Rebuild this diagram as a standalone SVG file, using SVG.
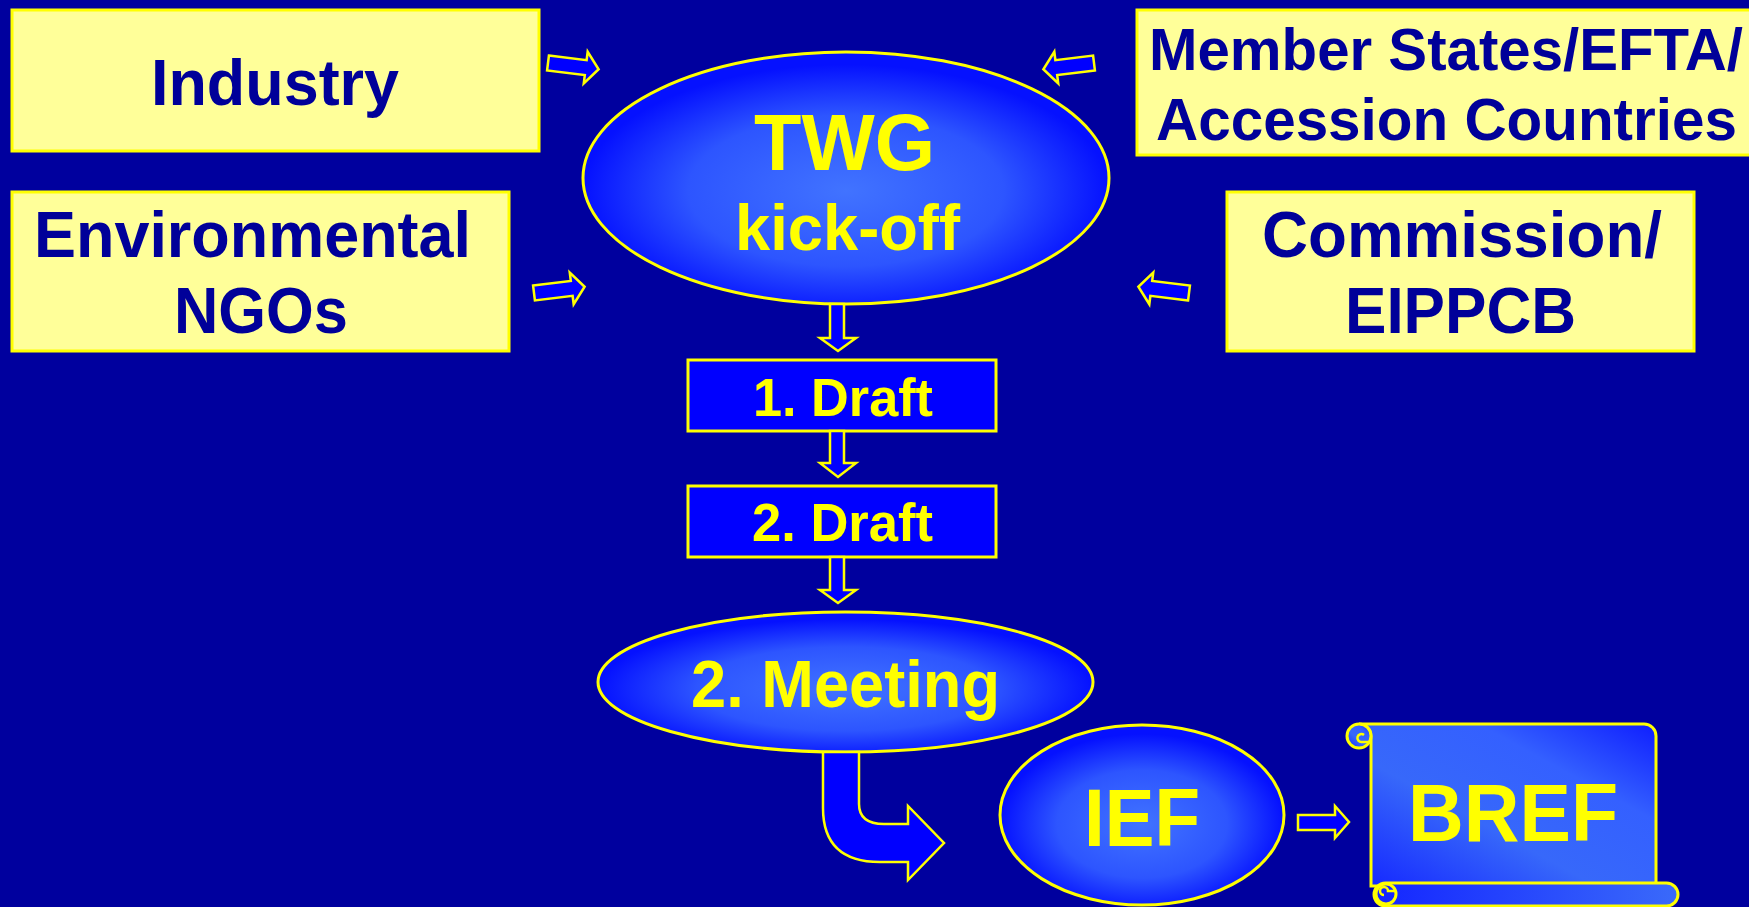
<svg xmlns="http://www.w3.org/2000/svg" width="1749" height="907" viewBox="0 0 1749 907">
<defs>
<radialGradient id="eg" cx="50%" cy="55%" r="50%">
<stop offset="0" stop-color="#4173FF"/>
<stop offset="0.6" stop-color="#2D55FF"/>
<stop offset="1" stop-color="#0511FF"/>
</radialGradient>
<linearGradient id="sg" x1="1" y1="0" x2="0" y2="1">
<stop offset="0" stop-color="#0F1EFF"/>
<stop offset="0.3" stop-color="#3460FF"/>
<stop offset="0.6" stop-color="#3768FA"/>
<stop offset="1" stop-color="#1426FF"/>
</linearGradient>
<linearGradient id="rg" x1="0" y1="0" x2="1" y2="0">
<stop offset="0" stop-color="#1426FF"/>
<stop offset="1" stop-color="#3A6AFA"/>
</linearGradient>
<path id="sa" d="M0,-7.5 L38,-7.5 L38,-16 L51,0 L38,16 L38,7.5 L0,7.5 Z"/>
</defs>
<style>
.box{fill:#FFFF99;stroke:#FFFF00;stroke-width:3}
.t{font-family:"Liberation Sans",Arial,sans-serif;font-weight:bold}
.dk{fill:#000099}
.yl{fill:#FFFF00}
.ell{fill:url(#eg);stroke:#FFFF00;stroke-width:3}
.rb{fill:#0000FF;stroke:#FFFF00;stroke-width:3}
.arr{fill:#0000FF;stroke:#FFFF00;stroke-width:2.5;stroke-linejoin:miter}
</style>
<rect width="1749" height="907" fill="#00009E"/>

<g id="industry">
<rect class="box" x="12" y="10" width="527" height="141"/>
<text class="t dk" x="151" y="105" font-size="64" textLength="248" lengthAdjust="spacingAndGlyphs">Industry</text>
</g>
<g id="ngos">
<rect class="box" x="12" y="192" width="497" height="159"/>
<text class="t dk" x="34" y="257" font-size="64" textLength="437" lengthAdjust="spacingAndGlyphs">Environmental</text>
<text class="t dk" x="174" y="333" font-size="64" textLength="174" lengthAdjust="spacingAndGlyphs">NGOs</text>
</g>
<g id="member-states">
<rect class="box" x="1137" y="10" width="614" height="145"/>
<text class="t dk" x="1149" y="70" font-size="60" textLength="594" lengthAdjust="spacingAndGlyphs">Member States/EFTA/</text>
<text class="t dk" x="1156" y="140" font-size="60" textLength="581" lengthAdjust="spacingAndGlyphs">Accession Countries</text>
</g>
<g id="commission">
<rect class="box" x="1227" y="192" width="467" height="159"/>
<text class="t dk" x="1262" y="257" font-size="64" textLength="400" lengthAdjust="spacingAndGlyphs">Commission/</text>
<text class="t dk" x="1345" y="333" font-size="64" textLength="231" lengthAdjust="spacingAndGlyphs">EIPPCB</text>
</g>
<g id="twg">
<ellipse class="ell" cx="846" cy="178" rx="263" ry="126"/>
<text class="t yl" x="754" y="170" font-size="80" textLength="181" lengthAdjust="spacingAndGlyphs">TWG</text>
<text class="t yl" x="735" y="250" font-size="64" textLength="225" lengthAdjust="spacingAndGlyphs">kick-off</text>
</g>
<g id="draft1">
<rect class="rb" x="688" y="360" width="308" height="71"/>
<text class="t yl" x="753" y="416" font-size="54" textLength="180" lengthAdjust="spacingAndGlyphs">1. Draft</text>
</g>
<g id="draft2">
<rect class="rb" x="688" y="486" width="308" height="71"/>
<text class="t yl" x="752" y="541" font-size="54" textLength="181" lengthAdjust="spacingAndGlyphs">2. Draft</text>
</g>
<g id="meeting">
<ellipse class="ell" cx="845.5" cy="682" rx="247.5" ry="70"/>
<text class="t yl" x="691" y="707" font-size="66" textLength="309" lengthAdjust="spacingAndGlyphs">2. Meeting</text>
</g>
<g id="ief">
<ellipse class="ell" cx="1142" cy="815" rx="142" ry="90"/>
<text class="t yl" x="1084" y="846" font-size="82" textLength="116" lengthAdjust="spacingAndGlyphs">IEF</text>
</g>
<g id="bref">
<path d="M1359,724 H1644 A12,12 0 0 1 1656,736 V886 H1371 V736 A12,12 0 0 0 1359,724 Z" fill="url(#sg)" stroke="#FFFF00" stroke-width="3"/>
<circle cx="1359" cy="736" r="12" fill="url(#sg)" stroke="#FFFF00" stroke-width="3"/>
<path d="M1371,742 H1362 A4,4 0 1 1 1364,735" fill="none" stroke="#FFFF00" stroke-width="2.5"/>
<rect x="1374" y="883" width="304" height="23" rx="11.5" fill="url(#rg)" stroke="#FFFF00" stroke-width="3"/>
<circle cx="1386" cy="894" r="10" fill="#1426FF" stroke="#FFFF00" stroke-width="3"/>
<path d="M1396,891 H1388 A4,4 0 1 0 1384,895" fill="none" stroke="#FFFF00" stroke-width="2.5"/>
<text class="t yl" x="1408" y="841" font-size="82" textLength="210" lengthAdjust="spacingAndGlyphs">BREF</text>
</g>

<g id="connectors">
<use href="#sa" class="arr" transform="translate(548,63) rotate(7)"/>
<use href="#sa" class="arr" transform="translate(534,293) rotate(-7)"/>
<use href="#sa" class="arr" transform="translate(1094,63) rotate(173)"/>
<use href="#sa" class="arr" transform="translate(1189,293) rotate(187)"/>
<path class="arr" d="M830,304 V338 H820 L838,351 L856,338 H844 V304 Z"/>
<path class="arr" d="M830,431 V463 H820 L838,477 L856,463 H844 V431 Z"/>
<path class="arr" d="M830,557 V590 H820 L838,603 L856,590 H844 V557 Z"/>
<path class="arr" d="M823,752 V808 Q823,862 880,862 H908 V880 L944,843 L908,806 V824 H884 Q859,824 859,804 V752 Z"/>
<path class="arr" d="M1298,815 H1335 V806 L1349,822 L1335,838 V830 H1298 Z"/>
</g>
</svg>
